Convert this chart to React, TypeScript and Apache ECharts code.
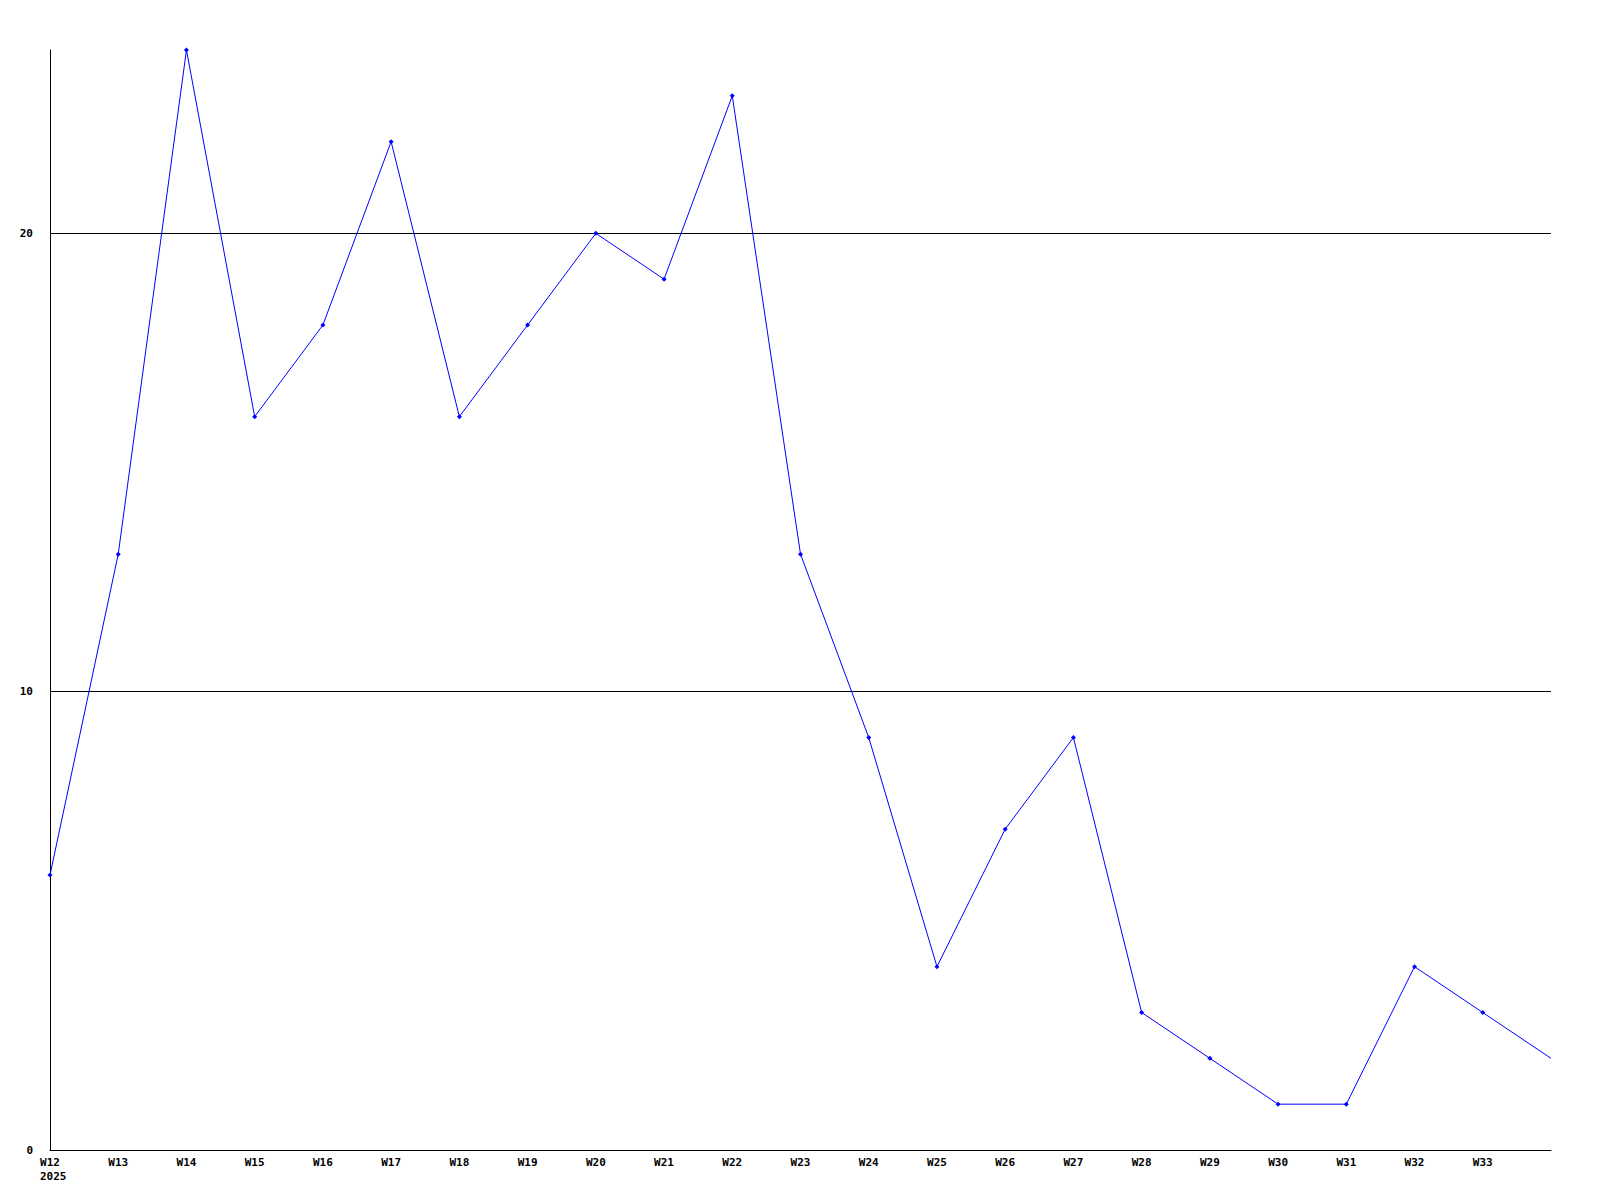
import React, { useEffect, useRef } from "react";
import * as echarts from "echarts";

const weeks = ["W12","W13","W14","W15","W16","W17","W18","W19","W20","W21","W22","W23","W24","W25","W26","W27","W28","W29","W30","W31","W32","W33","W34"];
const values = [6,13,24,16,18,22,16,18,20,19,23,13,9,4,7,9,3,2,1,1,4,3,2];
const yearLabel = "2025";

const FONT = "'DejaVu Sans Mono', 'Liberation Mono', monospace";

export default function App() {
  const ref = useRef<HTMLDivElement>(null);
  useEffect(() => {
    const chart = echarts.init(ref.current!, null, { renderer: "svg" });
    chart.setOption({
      animation: false,
      backgroundColor: "#ffffff",
      grid: { left: 50, right: 49, top: 50, bottom: 50, containLabel: false },
      xAxis: {
        type: "category",
        data: weeks,
        boundaryGap: false,
        axisLine: { show: true, lineStyle: { color: "#000", width: 1 } },
        axisTick: { show: false },
        splitLine: { show: false },
        axisLabel: {
          interval: 0,
          margin: 7,
          color: "#000",
          fontFamily: FONT,
          fontWeight: "bold",
          fontSize: 11,
          formatter: (v: string, i: number) => (i === weeks.length - 1 ? "" : v),
        },
      },
      yAxis: {
        type: "value",
        min: 0,
        max: 24,
        interval: 10,
        axisLine: { show: true, lineStyle: { color: "#000", width: 1 } },
        axisTick: { show: false },
        splitLine: {
          show: true,
          showMaxLine: false,
          showMinLine: false,
          lineStyle: { color: "#000", width: 1 },
        },
        axisLabel: {
          margin: 17,
          color: "#000",
          fontFamily: FONT,
          fontWeight: "bold",
          fontSize: 11,
          showMaxLabel: false,
          formatter: (v: number) => (v === 24 ? "" : String(v)),
        },
      },
      graphic: [
        {
          type: "text",
          left: 40,
          top: 1171,
          style: {
            text: yearLabel,
            fill: "#000",
            font: "bold 11px " + FONT,
          },
        },
      ],
      series: [
        {
          type: "line",
          data: values.map((v, i) =>
            i === values.length - 1 ? { value: v, symbol: "none" } : v
          ),
          symbol: "diamond",
          symbolSize: 5,
          showSymbol: true,
          lineStyle: { color: "#0000ff", width: 1 },
          itemStyle: { color: "#0000ff" },
          clip: true,
        },
      ],
    });
    return () => chart.dispose();
  }, []);
  return (
    <div
      ref={ref}
      style={{ position: "fixed", left: 0, top: 0, width: 1600, height: 1200, background: "#fff" }}
    />
  );
}
